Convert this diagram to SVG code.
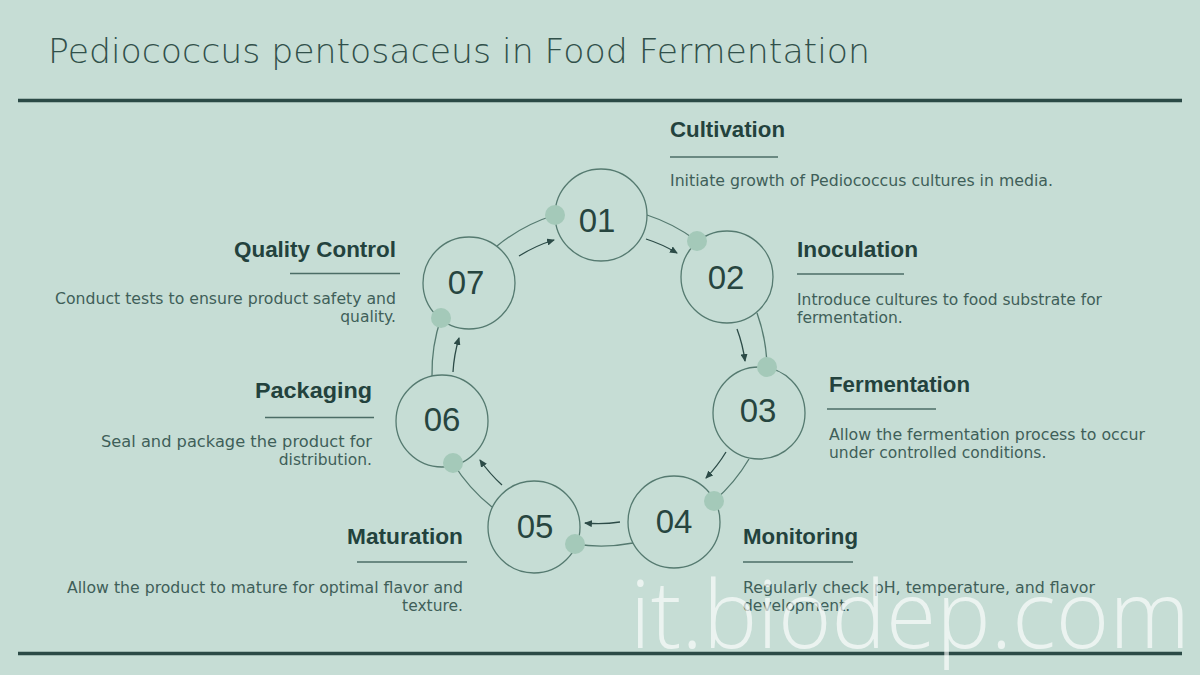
<svg xmlns="http://www.w3.org/2000/svg" width="1200" height="675" viewBox="0 0 1200 675">
<defs>
<style>
.bg{fill:#c6ddd5}
.rule{stroke:#2b4a46;stroke-width:3.5}
.title{font-family:"DejaVu Sans","Liberation Sans",sans-serif;font-size:34px;font-weight:200;fill:#31504a}
.node{fill:none;stroke:#557a70;stroke-width:1.3}
.num{font-family:"Liberation Sans",Arial,sans-serif;font-size:33px;fill:#27453f;text-anchor:middle}
.ring{fill:none;stroke:#557a70;stroke-width:1.3}
.arr{fill:none;stroke:#2c4b47;stroke-width:1.3;marker-end:url(#ah)}
.dot{fill:#a4c9b9}
.hd{font-family:"Liberation Sans",Arial,sans-serif;font-size:22px;font-weight:bold;fill:#23423d}
.ds{font-family:"DejaVu Sans","Liberation Sans",sans-serif;font-size:15.5px;fill:#3f5f59}
.ul{stroke:#4b6d66;stroke-width:1.5}
.wm{font-family:"Open Sans","DejaVu Sans",sans-serif;font-size:94px;font-weight:300;fill:#ffffff;fill-opacity:0.65}
</style>
<marker id="ah" viewBox="0 0 8 7" refX="7" refY="3.5" markerWidth="8" markerHeight="7" markerUnits="userSpaceOnUse" orient="auto">
<path d="M0,0 L8,3.5 L0,7 z" fill="#2c4b47"/>
</marker>
</defs>
<rect class="bg" x="0" y="0" width="1200" height="675"/>
<text class="title" x="48" y="63" textLength="822" lengthAdjust="spacingAndGlyphs">Pediococcus pentosaceus in Food Fermentation</text>
<line class="rule" x1="18" y1="100.5" x2="1182" y2="100.5"/>

<g id="connectors">
<path class="ring" d="M497,246 A169,169 0 0 1 555,215"/>
<path class="ring" d="M647,215 A169,169 0 0 1 697,241"/>
<path class="ring" d="M757,313 A169,169 0 0 1 767,367"/>
<path class="ring" d="M749,459 A169,169 0 0 1 714,501"/>
<path class="ring" d="M633,543 A169,169 0 0 1 575,544"/>
<path class="ring" d="M492,507 A169,169 0 0 1 453,463"/>
<path class="ring" d="M432,376 A169,169 0 0 1 441,318"/>
<path class="arr" d="M519,256 A148,148 0 0 1 554,240"/>
<path class="arr" d="M646,239 A148,148 0 0 1 677,253"/>
<path class="arr" d="M737,329 A148,148 0 0 1 745,361"/>
<path class="arr" d="M726,452 A148,148 0 0 1 706,478"/>
<path class="arr" d="M620,522 A148,148 0 0 1 585,523"/>
<path class="arr" d="M502,485 A148,148 0 0 1 480,460"/>
<path class="arr" d="M453,372 A148,148 0 0 1 459,338"/>
</g>

<g id="node-01">
<circle class="node" cx="601" cy="215" r="46"/>
<circle class="dot" cx="555" cy="215" r="10"/>
<text class="num" x="597" y="231.5">01</text>
<text class="hd" x="670" y="137" textLength="115" lengthAdjust="spacingAndGlyphs">Cultivation</text>
<line class="ul" x1="670" y1="157" x2="778" y2="157"/>
<text class="ds" x="670" y="186" textLength="383" lengthAdjust="spacingAndGlyphs">Initiate growth of Pediococcus cultures in media.</text>
</g>

<g id="node-02">
<circle class="node" cx="727" cy="277" r="46"/>
<circle class="dot" cx="697" cy="241" r="10"/>
<text class="num" x="726" y="288.5">02</text>
<text class="hd" x="797" y="256.5" textLength="121" lengthAdjust="spacingAndGlyphs">Inoculation</text>
<line class="ul" x1="797" y1="274" x2="904" y2="274"/>
<text class="ds" x="797" y="305" textLength="305" lengthAdjust="spacingAndGlyphs">Introduce cultures to food substrate for</text>
<text class="ds" x="797" y="323">fermentation.</text>
</g>

<g id="node-03">
<circle class="node" cx="759" cy="413" r="46"/>
<circle class="dot" cx="767" cy="367" r="10"/>
<text class="num" x="758" y="421.5">03</text>
<text class="hd" x="829" y="391.5" textLength="141" lengthAdjust="spacingAndGlyphs">Fermentation</text>
<line class="ul" x1="827" y1="409" x2="936" y2="409"/>
<text class="ds" x="829" y="440" textLength="316" lengthAdjust="spacingAndGlyphs">Allow the fermentation process to occur</text>
<text class="ds" x="829" y="458">under controlled conditions.</text>
</g>

<g id="node-04">
<circle class="node" cx="674" cy="522" r="46"/>
<circle class="dot" cx="714" cy="501" r="10"/>
<text class="num" x="674" y="532.5">04</text>
<text class="hd" x="743" y="544" textLength="115" lengthAdjust="spacingAndGlyphs">Monitoring</text>
<line class="ul" x1="743" y1="562" x2="853" y2="562"/>
<text class="ds" x="743" y="593" textLength="352" lengthAdjust="spacingAndGlyphs">Regularly check pH, temperature, and flavor</text>
<text class="ds" x="743" y="611">development.</text>
</g>

<g id="node-05">
<circle class="node" cx="534" cy="527" r="46"/>
<circle class="dot" cx="575" cy="544" r="10"/>
<text class="num" x="535" y="537.5">05</text>
<text class="hd" x="347" y="544" textLength="116" lengthAdjust="spacingAndGlyphs">Maturation</text>
<line class="ul" x1="357" y1="562" x2="467" y2="562"/>
<text class="ds" x="67" y="593" textLength="396" lengthAdjust="spacingAndGlyphs">Allow the product to mature for optimal flavor and</text>
<text class="ds" x="463" y="611" text-anchor="end">texture.</text>
</g>

<g id="node-06">
<circle class="node" cx="442" cy="421" r="46"/>
<circle class="dot" cx="453" cy="463" r="10"/>
<text class="num" x="442" y="430.5">06</text>
<text class="hd" x="255" y="398" textLength="117" lengthAdjust="spacingAndGlyphs">Packaging</text>
<line class="ul" x1="265" y1="417.5" x2="374" y2="417.5"/>
<text class="ds" x="101" y="447" textLength="271" lengthAdjust="spacingAndGlyphs">Seal and package the product for</text>
<text class="ds" x="372" y="465" text-anchor="end">distribution.</text>
</g>

<g id="node-07">
<circle class="node" cx="469" cy="283" r="46"/>
<circle class="dot" cx="441" cy="318" r="10"/>
<text class="num" x="466" y="293.5">07</text>
<text class="hd" x="234" y="256.5" textLength="162" lengthAdjust="spacingAndGlyphs">Quality Control</text>
<line class="ul" x1="290" y1="273.5" x2="400" y2="273.5"/>
<text class="ds" x="55" y="303.5" textLength="341" lengthAdjust="spacingAndGlyphs">Conduct tests to ensure product safety and</text>
<text class="ds" x="396" y="322" text-anchor="end">quality.</text>
</g>

<line class="rule" x1="18" y1="653.5" x2="1182" y2="653.5"/>
<text class="wm" x="630" y="648" textLength="560" lengthAdjust="spacingAndGlyphs">it.biodep.com</text>
</svg>
